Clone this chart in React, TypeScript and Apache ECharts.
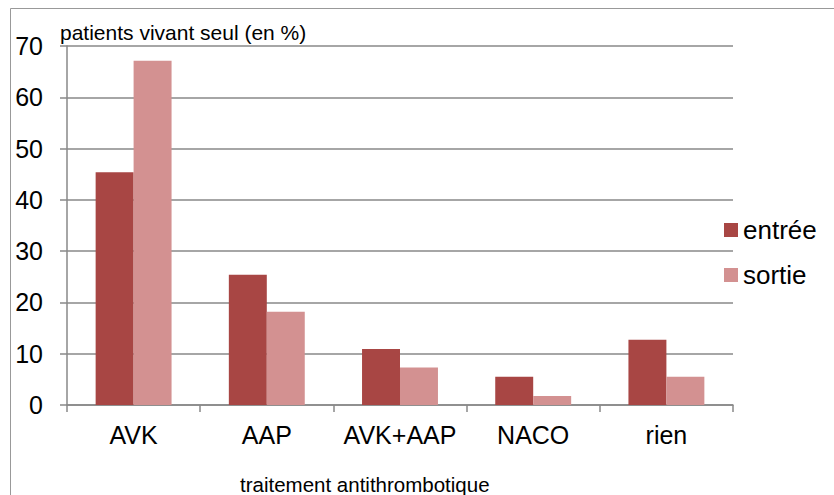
import React, { useEffect, useRef } from "react";
import * as echarts from "echarts";

const categories = ["AVK", "AAP", "AVK+AAP", "NACO", "rien"];
const entree = [45.4, 25.4, 10.9, 5.5, 12.7];
const sortie = [67.1, 18.2, 7.3, 1.75, 5.5];
const seriesNames = ["entrée", "sortie"];
const yTitle = "patients vivant seul (en %)";
const xTitle = "traitement antithrombotique";

const FONT = "'Liberation Sans', Arial, sans-serif";

export default function App() {
  const ref = useRef<HTMLDivElement>(null);
  useEffect(() => {
    if (!ref.current) return;
    const chart = echarts.init(ref.current, null, { renderer: "svg" });
    chart.setOption({
      animation: false,
      backgroundColor: "#fff",
      textStyle: { fontFamily: FONT },
      grid: { left: 67, top: 46, right: 101, bottom: 90, containLabel: false },
      legend: {
        orient: "vertical",
        left: 724,
        top: 217,
        itemWidth: 14,
        itemHeight: 14,
        itemGap: 19,
        icon: "rect",
        padding: 0,
        textStyle: { fontSize: 26, color: "#000", fontFamily: FONT },
        data: seriesNames,
      },
      xAxis: {
        type: "category",
        data: categories,
        boundaryGap: true,
        axisLine: { lineStyle: { color: "#888", width: 1.5 } },
        axisTick: { show: true, length: 7, interval: 0, lineStyle: { color: "#888", width: 1.5 } },
        axisLabel: { fontSize: 25, color: "#000", margin: 17, interval: 0, fontFamily: FONT },
      },
      yAxis: {
        type: "value",
        min: 0,
        max: 70,
        interval: 10,
        axisLine: { show: true, lineStyle: { color: "#888", width: 1.5 } },
        axisTick: { show: true, length: 7, lineStyle: { color: "#888", width: 1.5 } },
        splitLine: { lineStyle: { color: "#888", width: 1.5 } },
        axisLabel: { fontSize: 25, color: "#000", margin: 24, fontFamily: FONT },
      },
      series: [
        {
          name: seriesNames[0],
          type: "bar",
          data: entree,
          barGap: "0%",
          barCategoryGap: "43%",
          itemStyle: { color: "#A84644" },
        },
        {
          name: seriesNames[1],
          type: "bar",
          data: sortie,
          barGap: "0%",
          barCategoryGap: "43%",
          itemStyle: { color: "#D39191" },
        },
      ],
      graphic: [
        {
          type: "rect",
          shape: { x: 10.5, y: 8.5, width: 900, height: 600 },
          style: { fill: "none", stroke: "#999", lineWidth: 1 },
          silent: true,
        },
        {
          type: "text",
          x: 60,
          y: 22,
          style: { text: yTitle, fontSize: 21, fill: "#000", fontFamily: FONT },
        },
        {
          type: "text",
          x: 240,
          y: 474,
          style: { text: xTitle, fontSize: 20.5, fill: "#000", fontFamily: FONT },
        },
      ],
    });
    return () => chart.dispose();
  }, []);
  return (
    <div
      ref={ref}
      style={{ position: "fixed", left: 0, top: 0, width: 834, height: 495 }}
    />
  );
}
